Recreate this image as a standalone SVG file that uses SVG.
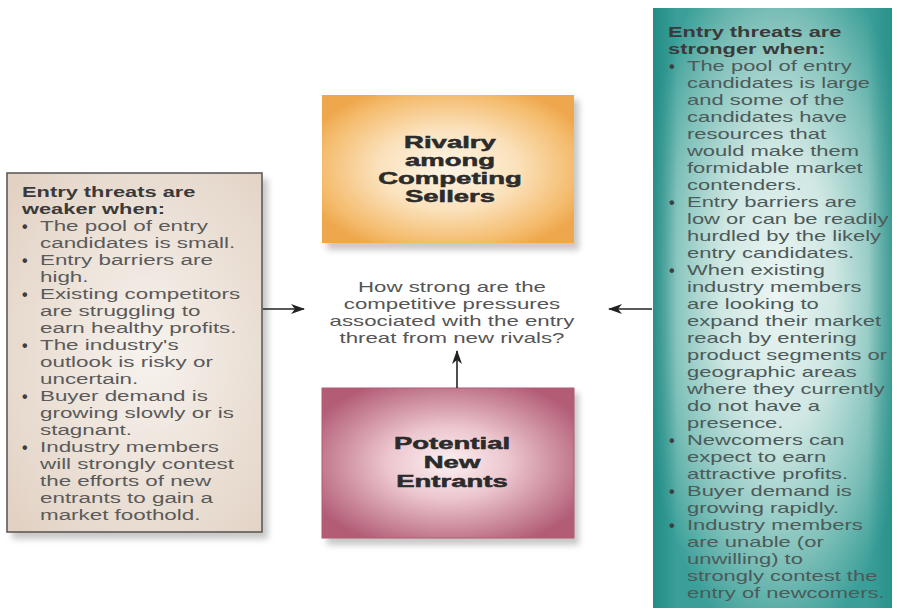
<svg xmlns="http://www.w3.org/2000/svg" width="898" height="612" viewBox="0 0 898 612">
<defs>
  <radialGradient id="gOrange" cx="0.5" cy="0.5" r="0.6">
    <stop offset="0" stop-color="#fdf4e6"/>
    <stop offset="0.45" stop-color="#fbe2bd"/>
    <stop offset="0.85" stop-color="#f4bb6c"/>
    <stop offset="1" stop-color="#eea74c"/>
  </radialGradient>
  <radialGradient id="gPink" cx="0.5" cy="0.5" r="0.6">
    <stop offset="0" stop-color="#fbf0f2"/>
    <stop offset="0.4" stop-color="#ecc6ce"/>
    <stop offset="1" stop-color="#b25c76"/>
  </radialGradient>
  <radialGradient id="gBeige" cx="0.55" cy="0.5" r="0.7">
    <stop offset="0" stop-color="#f7f3ee"/>
    <stop offset="1" stop-color="#e2d2c4"/>
  </radialGradient>
  <radialGradient id="gTeal" cx="0.52" cy="0.47" r="0.6">
    <stop offset="0" stop-color="#ecf5f3"/>
    <stop offset="0.4" stop-color="#cfe7e3"/>
    <stop offset="0.75" stop-color="#80c1ba"/>
    <stop offset="1" stop-color="#3a9f98"/>
  </radialGradient>
  <linearGradient id="gTealEdge" x1="0" y1="0" x2="1" y2="0">
    <stop offset="0" stop-color="#1f8982" stop-opacity="0.85"/>
    <stop offset="0.1" stop-color="#1f8982" stop-opacity="0"/>
    <stop offset="0.9" stop-color="#1f8982" stop-opacity="0"/>
    <stop offset="1" stop-color="#1f8982" stop-opacity="0.6"/>
  </linearGradient>
  <filter id="shadow" x="-10%" y="-10%" width="130%" height="130%">
    <feGaussianBlur stdDeviation="3"/>
  </filter>
  <marker id="arrow" viewBox="0 0 14 10" refX="13" refY="5" markerWidth="14" markerHeight="10" markerUnits="userSpaceOnUse" orient="auto">
    <path d="M0,0 L14,5 L0,10 L4,5 Z" fill="#222"/>
  </marker>
  <style>
    .body { font-family: "Liberation Sans", Arial, sans-serif; font-size: 14px; fill: #5a5a5a; }
    .bodyT { font-family: "Liberation Sans", Arial, sans-serif; font-size: 14px; fill: #4c5a59; }
    .head { font-family: "Liberation Sans", Arial, sans-serif; font-size: 14px; font-weight: bold; fill: #3a3a3a; }
    .bul { font-family: "Liberation Sans", Arial, sans-serif; font-size: 16px; font-weight: bold; fill: #3e3e3e; }
    .title { font-family: "Liberation Sans", Arial, sans-serif; font-size: 16px; font-weight: bold; fill: #2b2b2b; stroke: #2b2b2b; stroke-width: 0.5; text-anchor: middle; }
    .center { font-family: "Liberation Sans", Arial, sans-serif; font-size: 14px; fill: #555; text-anchor: middle; }
    .conn { stroke: #222; stroke-width: 1.6; fill: none; }
    .shadow { fill: #9a9a9a; opacity: 0.55; }
  </style>
</defs>
<rect x="0" y="0" width="898" height="612" fill="#ffffff"/>

<!-- Left box: weaker -->
<g id="weaker">
  <rect class="shadow" x="12" y="179" width="256" height="360" filter="url(#shadow)"/>
  <rect x="7" y="173" width="255" height="359" fill="url(#gBeige)" stroke="#5e5a57" stroke-width="1.6"/>
  <g transform="matrix(1.56 0 0 1 22 0)">
    <text class="head" x="0" y="197">Entry threats are</text>
    <text class="head" x="0" y="214">weaker when:</text>
  </g>
  <g class="bul">
    <text x="22" y="232">•</text>
    <text x="22" y="266">•</text>
    <text x="22" y="300">•</text>
    <text x="22" y="351">•</text>
    <text x="22" y="402">•</text>
    <text x="22" y="453">•</text>
  </g>
  <g transform="matrix(1.6 0 0 1 40 0)">
    <text class="body" x="0" y="231">The pool of entry</text>
    <text class="body" x="0" y="248">candidates is small.</text>
    <text class="body" x="0" y="265">Entry barriers are</text>
    <text class="body" x="0" y="282">high.</text>
    <text class="body" x="0" y="299">Existing competitors</text>
    <text class="body" x="0" y="316">are struggling to</text>
    <text class="body" x="0" y="333">earn healthy profits.</text>
    <text class="body" x="0" y="350">The industry's</text>
    <text class="body" x="0" y="367">outlook is risky or</text>
    <text class="body" x="0" y="384">uncertain.</text>
    <text class="body" x="0" y="401">Buyer demand is</text>
    <text class="body" x="0" y="418">growing slowly or is</text>
    <text class="body" x="0" y="435">stagnant.</text>
    <text class="body" x="0" y="452">Industry members</text>
    <text class="body" x="0" y="469">will strongly contest</text>
    <text class="body" x="0" y="486">the efforts of new</text>
    <text class="body" x="0" y="503">entrants to gain a</text>
    <text class="body" x="0" y="520">market foothold.</text>
  </g>
</g>

<!-- Orange box: rivalry -->
<g id="rivalry">
  <rect class="shadow" x="327" y="100" width="252" height="150" filter="url(#shadow)"/>
  <rect x="322" y="95" width="252" height="148" fill="url(#gOrange)"/>
  <g transform="matrix(1.72 0 0 1 450 0)">
    <text class="title" x="0" y="148">Rivalry</text>
    <text class="title" x="0" y="166">among</text>
    <text class="title" x="0" y="184">Competing</text>
    <text class="title" x="0" y="202">Sellers</text>
  </g>
</g>

<!-- Center question -->
<g id="question">
  <g transform="matrix(1.59 0 0 1 452 0)">
    <text class="center" x="0" y="292">How strong are the</text>
    <text class="center" x="0" y="309">competitive pressures</text>
    <text class="center" x="0" y="326">associated with the entry</text>
    <text class="center" x="0" y="343">threat from new rivals?</text>
  </g>
</g>

<!-- Pink box: potential new entrants -->
<g id="entrants">
  <rect class="shadow" x="327" y="393" width="252" height="152" filter="url(#shadow)"/>
  <rect x="322" y="388" width="252" height="150" fill="url(#gPink)" stroke="#b35a74" stroke-width="1"/>
  <g transform="matrix(1.72 0 0 1 452 0)">
    <text class="title" x="0" y="449">Potential</text>
    <text class="title" x="0" y="468">New</text>
    <text class="title" x="0" y="487">Entrants</text>
  </g>
</g>

<!-- Right box: stronger -->
<g id="stronger">
  <rect x="653" y="8" width="239" height="600" fill="url(#gTeal)"/>
  <rect x="653" y="8" width="239" height="600" fill="url(#gTealEdge)"/>
  <g transform="matrix(1.56 0 0 1 668 0)">
    <text class="head" x="0" y="37">Entry threats are</text>
    <text class="head" x="0" y="54">stronger when:</text>
  </g>
  <g class="bul">
    <text x="669" y="72">•</text>
    <text x="669" y="208">•</text>
    <text x="669" y="276">•</text>
    <text x="669" y="446">•</text>
    <text x="669" y="497">•</text>
    <text x="669" y="531">•</text>
  </g>
  <g transform="matrix(1.57 0 0 1 687 0)">
    <text class="bodyT" x="0" y="71">The pool of entry</text>
    <text class="bodyT" x="0" y="88">candidates is large</text>
    <text class="bodyT" x="0" y="105">and some of the</text>
    <text class="bodyT" x="0" y="122">candidates have</text>
    <text class="bodyT" x="0" y="139">resources that</text>
    <text class="bodyT" x="0" y="156">would make them</text>
    <text class="bodyT" x="0" y="173">formidable market</text>
    <text class="bodyT" x="0" y="190">contenders.</text>
    <text class="bodyT" x="0" y="207">Entry barriers are</text>
    <text class="bodyT" x="0" y="224">low or can be readily</text>
    <text class="bodyT" x="0" y="241">hurdled by the likely</text>
    <text class="bodyT" x="0" y="258">entry candidates.</text>
    <text class="bodyT" x="0" y="275">When existing</text>
    <text class="bodyT" x="0" y="292">industry members</text>
    <text class="bodyT" x="0" y="309">are looking to</text>
    <text class="bodyT" x="0" y="326">expand their market</text>
    <text class="bodyT" x="0" y="343">reach by entering</text>
    <text class="bodyT" x="0" y="360">product segments or</text>
    <text class="bodyT" x="0" y="377">geographic areas</text>
    <text class="bodyT" x="0" y="394">where they currently</text>
    <text class="bodyT" x="0" y="411">do not have a</text>
    <text class="bodyT" x="0" y="428">presence.</text>
    <text class="bodyT" x="0" y="445">Newcomers can</text>
    <text class="bodyT" x="0" y="462">expect to earn</text>
    <text class="bodyT" x="0" y="479">attractive profits.</text>
    <text class="bodyT" x="0" y="496">Buyer demand is</text>
    <text class="bodyT" x="0" y="513">growing rapidly.</text>
    <text class="bodyT" x="0" y="530">Industry members</text>
    <text class="bodyT" x="0" y="547">are unable (or</text>
    <text class="bodyT" x="0" y="564">unwilling) to</text>
    <text class="bodyT" x="0" y="581">strongly contest the</text>
    <text class="bodyT" x="0" y="598">entry of newcomers.</text>
  </g>
</g>

<!-- Connectors -->
<g id="connectors">
  <line class="conn" x1="263" y1="309" x2="304" y2="309" marker-end="url(#arrow)"/>
  <line class="conn" x1="652" y1="309" x2="609" y2="309" marker-end="url(#arrow)"/>
  <line class="conn" x1="457" y1="388" x2="457" y2="351" marker-end="url(#arrow)"/>
</g>
</svg>
